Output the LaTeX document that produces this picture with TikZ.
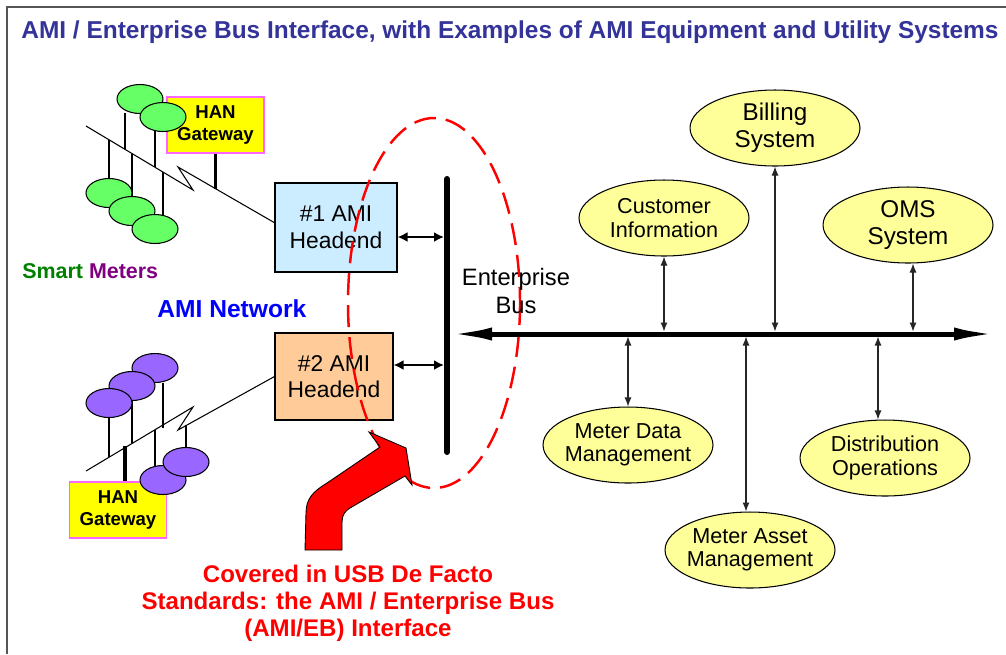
\documentclass[tikz,border=0pt]{standalone}
\usepackage{fontspec}
\setmainfont{Liberation Sans}
\usetikzlibrary{arrows.meta,shapes.geometric}
\definecolor{titleblue}{HTML}{333399}
\definecolor{hanyellow}{HTML}{FFFF00}
\definecolor{hanpink}{HTML}{FF66FF}
\definecolor{metergreen}{HTML}{66FF66}
\definecolor{meterpurple}{HTML}{9966FF}
\definecolor{headblue}{HTML}{CCECFF}
\definecolor{headpeach}{HTML}{FFCC99}
\definecolor{sysyellow}{HTML}{FFFF99}
\definecolor{smartgreen}{HTML}{008000}
\definecolor{smartpurple}{HTML}{800080}
\definecolor{netblue}{HTML}{0000FF}
\definecolor{framegray}{HTML}{555555}
\tikzset{
  frame/.style={line width=0.9pt, draw=framegray},
  wire/.style={line width=0.6pt, draw=black},
  gwstem/.style={line width=1.8pt, draw=black},
  gmeter/.style={draw=black, line width=0.6pt, fill=metergreen},
  pmeter/.style={draw=black, line width=0.6pt, fill=meterpurple},
  hanbox/.style={draw=hanpink, line width=0.6pt, fill=hanyellow, minimum width=1.94cm,
    minimum height=1.12cm, align=center, font=\fontsize{10.6}{12.3}\selectfont\bfseries},
  headbox/.style={draw=black, line width=0.6pt, align=center, font=\fontsize{13}{15.2}\selectfont},
  sys/.style={ellipse, draw=black, line width=0.6pt, fill=sysyellow, minimum width=3.4cm,
    minimum height=1.52cm, inner xsep=-4pt, inner ysep=0pt, align=center,
    font=\fontsize{12.3}{13.3}\selectfont},
  bigsys/.style={sys, font=\fontsize{13.8}{15.2}\selectfont},
  link/.style={line width=0.6pt, draw=black!85, shorten >=0.05cm,
    {Latex[length=0.18cm,width=0.14cm]}-{Latex[length=0.18cm,width=0.14cm]}},
  headlink/.style={line width=1.4pt, shorten >=0.06cm,
    {Latex[length=0.2cm,width=0.2cm]}-{Latex[length=0.2cm,width=0.2cm]}},
  vbus/.style={line width=0.12cm, line cap=round},
  hbus/.style={line width=0.1cm, {Latex[length=0.86cm,width=0.26cm]}-{Latex[length=0.86cm,width=0.26cm]}},
  scope/.style={draw=red, line width=1.4pt, dash pattern=on 0.44cm off 0.2cm},
  redarrow/.style={draw=black, line width=0.5pt, fill=red},
  redtext/.style={text=red, align=center, font=\fontsize{13.7}{15.4}\selectfont\bfseries},
}

\begin{document}
\begin{tikzpicture}[x=0.02cm, y=-0.02cm]
  \useasboundingbox (0,0) rectangle (1006,654);
  \draw[frame] (7,654) -- (7,7) -- (1006,7);

  \node[anchor=base, text=titleblue, font=\fontsize{13.9}{16}\selectfont\bfseries] (title) at (510,38)
    {AMI / Enterprise Bus Interface, with Examples of AMI Equipment and Utility Systems};

  % upper meter cluster
  \coordinate (ta) at (86,126);
  \coordinate (tb) at (193,190);
  \coordinate (tc) at (178,167);
  \coordinate (td) at (275,223);
  \foreach \x/\ya/\yb in {125/113/149, 155/131/167, 109/140/180, 132/154/197, 163/172/215}
    \draw[wire] (\x,\ya) -- (\x,\yb);
  \draw[wire] (ta) -- (tb) -- (tc) -- (td);
  \node[hanbox] (gwtop) at (215.5,125) {HAN\\Gateway};
  \draw[gwstem] (gwtop.south) -- ++(0,35);
  \foreach \x/\y in {140/99, 163/117, 109/193, 132/211, 155/229}
    \draw[gmeter] (\x,\y) ellipse [x radius=23, y radius=14.5];

  % lower meter cluster
  \coordinate (ba) at (86,471);
  \coordinate (bb) at (193,407);
  \coordinate (bc) at (178,430);
  \foreach \x/\ya/\yb in {109/418/457, 132/400/443, 163/383/428, 155/430/466, 186/425/448}
    \draw[wire] (\x,\ya) -- (\x,\yb);
  \node[hanbox] (gwbot) at (118,510) {HAN\\Gateway};
  \draw[gwstem] (gwbot.north -| 125,0) -- ++(0,-35);
  \foreach \x/\y in {155/368, 132/386, 109/403, 163/480, 186/462}
    \draw[pmeter] (\x,\y) ellipse [x radius=23, y radius=14.5];

  % headends
  \node[headbox, fill=headblue, minimum width=2.44cm, minimum height=1.78cm] (head1) at (336,227.5) {\#1 AMI\\Headend};
  \node[headbox, fill=headpeach, minimum width=2.36cm, minimum height=1.74cm] (head2) at (334,376.5) {\#2 AMI\\Headend};
  \draw[wire] (ba) -- (bb) -- (bc) -- (head2.west);

  % AMI/EB interface
  \draw[scope] (434,303) ellipse [x radius=86, y radius=185];

  % enterprise bus
  \coordinate (vtop) at (447,179);
  \coordinate (vbot) at (447,452);
  \coordinate (busl) at (449,334);
  \coordinate (busr) at (997,334);
  \draw[headlink] ([yshift=-0.19cm]head1.east) -- ([yshift=-0.19cm]head1.east -| vtop);
  \draw[headlink] ([yshift=0.23cm]head2.east) -- ([yshift=0.23cm]head2.east -| vtop);
  \draw[vbus] (vtop) -- (vbot);
  \draw[hbus] (busl) -- (busr);
  \node[font=\fontsize{13.5}{16}\selectfont, align=center] (entbus) at (516,291) {Enterprise\\Bus};

  % utility systems
  \node[bigsys] (billing) at (775,128) {Billing\\System};
  \node[sys] (custinfo) at (664,218) {Customer\\Information};
  \node[bigsys] (oms) at (908,225) {OMS\\System};
  \node[sys] (mdm) at (628,445) {Meter Data\\Management};
  \node[sys] (mam) at (750,550) {Meter Asset\\Management};
  \node[sys] (distops) at (885,458) {Distribution\\Operations};

  \draw[link] (custinfo.south) -- (custinfo.south |- busl);
  \draw[link] (billing.south) -- (billing.south |- busl);
  \draw[link] ([xshift=0.1cm]oms.south) -- ([xshift=0.1cm]oms.south |- busl);
  \draw[link] (mdm.north) -- (mdm.north |- busl);
  \draw[link] ([xshift=-0.08cm]mam.north) -- ([xshift=-0.08cm]mam.north |- busl);
  \draw[link] ([xshift=-0.14cm]distops.north) -- ([xshift=-0.14cm]distops.north |- busl);

  % labels
  \node[anchor=base west, inner sep=0pt, font=\fontsize{12.2}{14}\selectfont\bfseries] (smart) at (22,278)
    {\textcolor{smartgreen}{Smart} \textcolor{smartpurple}{Meters}};
  \node[anchor=base west, inner sep=0pt, text=netblue, font=\fontsize{14}{16}\selectfont\bfseries] (amin) at (157,317) {AMI Network};

  % covered arrow
  \draw[redarrow] (305,550) -- (306,513) .. controls (306,498) and (314,491) .. (327,483)
    -- (380,447) -- (369,432) -- (406,448) -- (412,485) -- (405,476) -- (350,508)
    .. controls (345,511) and (342,515) .. (342,522) -- (342,550) -- cycle;
  \node[redtext] (covered) at (348,603) {Covered in USB De Facto\\Standards: the AMI / Enterprise Bus\\(AMI/EB) Interface};
\end{tikzpicture}
\end{document}
